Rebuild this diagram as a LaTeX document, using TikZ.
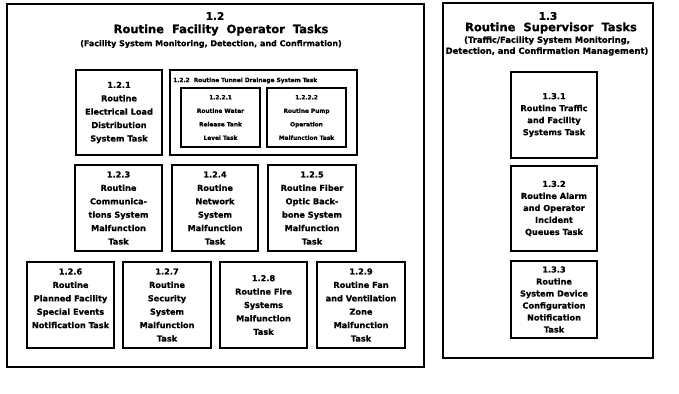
\documentclass[tikz,border=0pt]{standalone}
\usepackage{fontspec}
\setmainfont[BoldFeatures={FakeBold=0.8}]{DejaVu Sans}
\begin{document}
\begin{tikzpicture}[x=1pt,y=-1pt,
  task/.style={draw, line width=2pt, align=center, inner sep=1pt,
    font=\bfseries\fontsize{8.2}{13.4}\selectfont},
  small/.style={draw, line width=2pt, align=center, inner sep=1pt,
    font=\bfseries\fontsize{5.8}{13.5}\selectfont},
  group/.style={draw, line width=1.5pt, inner sep=0pt},
  inner group/.style={draw, line width=1.8pt, inner sep=0pt},
  num/.style={font=\bfseries\fontsize{10.5}{12}\selectfont},
  ttl/.style={font=\bfseries\fontsize{11.5}{12}\selectfont},
  sub/.style={align=center, font=\bfseries\fontsize{8}{11}\selectfont},
]
\useasboundingbox (0,0) rectangle (679,393);

% ---- 1.2 operator tasks ----
\node[group, minimum width=417pt, minimum height=363pt] (g12) at (215.5,185.5) {};
\node[num] (n12) at (215,16) {1.2};
\node[ttl] (h12) at (221,30) {Routine\ \ Facility\ \ Operator\ \ Tasks};
\node[sub] (s12) at (211,44) {(Facility System Monitoring, Detection, and Confirmation)};

\node[task, minimum width=86pt, minimum height=85pt] (t121) at (119,112.5)
  {1.2.1\\Routine\\Electrical Load\\Distribution\\System Task};

\node[inner group, minimum width=187pt, minimum height=85pt] (t122) at (263.5,112.5) {};
\node[font=\bfseries\fontsize{5.8}{6}\selectfont, anchor=west, inner sep=0pt] (h122) at (173,80.5)
  {1.2.2\ \ Routine Tunnel Drainage System Task};
\node[small, minimum width=79pt, minimum height=59pt] (t1221) at (220.5,117.5)
  {1.2.2.1\\Routine Water\\Release Tank\\Level Task};
\node[small, minimum width=79pt, minimum height=59pt] (t1222) at (306.5,117.5)
  {1.2.2.2\\Routine Pump\\Operation\\Malfunction Task};

\node[task, minimum width=87pt, minimum height=86pt] (t123) at (118.5,208)
  {1.2.3\\Routine\\Communica-\\tions System\\Malfunction\\Task};
\node[task, minimum width=86pt, minimum height=86pt] (t124) at (215,208)
  {1.2.4\\Routine\\Network\\System\\Malfunction\\Task};
\node[task, minimum width=88pt, minimum height=86pt] (t125) at (312,208)
  {1.2.5\\Routine Fiber\\Optic Back-\\bone System\\Malfunction\\Task};

\node[task, minimum width=87pt, minimum height=86pt] (t126) at (70.5,305)
  {1.2.6\\Routine\\Planned Facility\\Special Events\\Notification Task\\ };
\node[task, minimum width=88pt, minimum height=86pt] (t127) at (167,305)
  {1.2.7\\Routine\\Security\\System\\Malfunction\\Task};
\node[task, minimum width=87pt, minimum height=86pt] (t128) at (263.5,305)
  {1.2.8\\Routine Fire\\Systems\\Malfunction\\Task};
\node[task, minimum width=88pt, minimum height=86pt] (t129) at (361,305)
  {1.2.9\\Routine Fan\\and Ventilation\\Zone\\Malfunction\\Task};

% ---- 1.3 supervisor tasks ----
\node[group, minimum width=210pt, minimum height=355pt] (g13) at (548,180.5) {};
\node[num] (n13) at (548,16) {1.3};
\node[ttl] (h13) at (551,28) {Routine\ \ Supervisor\ \ Tasks};
\node[sub, font=\bfseries\fontsize{8.4}{11}\selectfont] (s13) at (547,46)
  {(Traffic/Facility System Monitoring,\\Detection, and Confirmation Management)};

\node[task, minimum width=86pt, minimum height=85pt, font=\bfseries\fontsize{8.2}{12}\selectfont]
  (t131) at (554,115) {1.3.1\\Routine Traffic\\and Facility\\Systems Task};
\node[task, minimum width=86pt, minimum height=85pt, font=\bfseries\fontsize{8.2}{12}\selectfont]
  (t132) at (554,208.5) {1.3.2\\Routine Alarm\\and Operator\\Incident\\Queues Task};
\node[task, minimum width=86pt, minimum height=77pt, font=\bfseries\fontsize{8.2}{12}\selectfont]
  (t133) at (554,299.5) {1.3.3\\Routine\\System Device\\Configuration\\Notification\\Task};
\end{tikzpicture}
\end{document}
